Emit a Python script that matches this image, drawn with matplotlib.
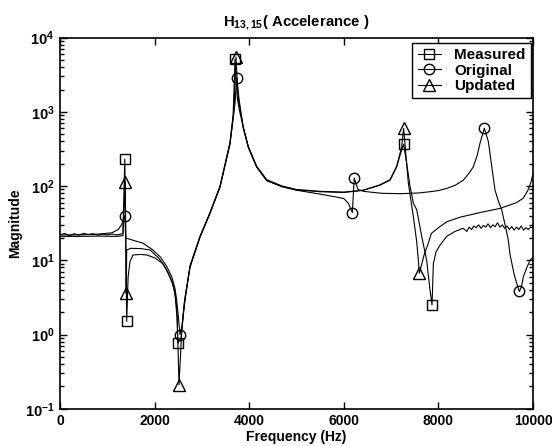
import numpy as np
import matplotlib
matplotlib.use('Agg')
import matplotlib.pyplot as plt
from matplotlib.lines import Line2D
from matplotlib.ticker import FixedLocator, LogLocator, FuncFormatter, NullFormatter

# measured FRF (noisy test data)
meas_f = [0, 100, 200, 300, 400, 500, 600, 700, 800, 900, 1000, 1100, 1200, 1280, 1330,
          1370, 1410, 1440, 1480, 1543, 1700, 1833, 2000, 2178, 2300, 2389, 2440, 2474,
          2488, 2560, 2600, 2650, 2750, 2960, 3171, 3383, 3594, 3660, 3700, 3750, 3800,
          3876, 3982, 4158, 4370, 4700, 5000, 5500, 6000, 6413, 6765, 6977, 7118, 7224,
          7265, 7330, 7400, 7470, 7541, 7647, 7752, 7822, 7865, 7893, 7950, 8034, 8175,
          8350, 8520, 8600, 8650, 8700, 8750, 8800, 8850, 8900, 8950, 9000, 9050, 9100,
          9150, 9200, 9250, 9300, 9350, 9400, 9450, 9500, 9550, 9600, 9650, 9700, 9750,
          9800, 9850, 9900, 9950, 10000]
meas_m = [22, 23, 21.5, 22.8, 22, 23, 22.3, 22.8, 21.8, 22.5, 22, 22.6, 22, 22.5, 23,
          230, 1.5, 6, 9.6, 11.8, 12, 11.8, 10.8, 9.0, 6.5, 4.8, 3.2, 2.1,
          0.76, 0.9, 1.8, 3.3, 8.5, 21, 44, 100, 390, 900, 5100, 1500, 1000,
          620, 340, 185, 122, 100, 90, 85, 83, 88, 103, 120, 182, 310,
          366, 200, 100, 59, 48, 21, 10, 4, 2.5, 9, 13, 16, 21,
          24.5, 27, 24.5, 28, 26, 29, 27.5, 30, 27, 29.5, 28, 31, 27.5,
          30, 28.5, 32, 28, 30, 27, 29, 26, 28.5, 25.5, 28, 26, 29,
          25.5, 27.5, 26, 28, 27.5]
meas_mark_f = [1370, 1410, 2488, 3700, 7265, 7865]

# original FE model
orig_f = [0, 400, 800, 1100, 1230, 1300, 1340, 1370, 1390, 1500, 1755, 1950, 2114, 2250,
          2362, 2430, 2467, 2500, 2537, 2580, 2643, 2748, 2960, 3171, 3383, 3594, 3700,
          3735, 3790, 3876, 3982, 4158, 4370, 4700, 5000, 5500, 5800, 6000, 6100, 6180,
          6220, 6300, 6413, 6800, 7200, 7600, 7822, 8000, 8175, 8360, 8527, 8650, 8739,
          8820, 8880, 8971, 9055, 9130, 9197, 9270, 9338, 9420, 9478, 9514, 9600, 9655,
          9711, 9760, 9795, 9870, 9937, 10000]
orig_m = [22, 22, 22.5, 23.5, 26, 30, 35, 40, 20, 19, 17, 14, 11.2, 8.4,
          6.0, 4.2, 2.9, 1.8, 1.0, 1.3, 2.9, 8.2, 20.8, 43, 98, 370, 1300,
          2840, 1400, 600, 330, 180, 118, 98, 88, 78, 72, 68, 58, 44,
          128, 90, 85, 80, 79, 81, 84, 87, 93, 103, 120, 150, 182,
          260, 380, 601, 400, 180, 88, 62, 48, 28, 18.7, 12, 6.5, 4.9,
          3.8, 4.5, 6, 8, 10, 11]
orig_mark_f = [1370, 2537, 3735, 6180, 6220, 8971, 9711]

# updated FE model
upd_f = [0, 400, 800, 1200, 1330, 1380, 1400, 1410, 1500, 1700, 1903, 2100, 2255, 2370,
         2431, 2480, 2516, 2570, 2630, 2748, 2960, 3171, 3383, 3594, 3680, 3720, 3770,
         3876, 3982, 4158, 4370, 4700, 5000, 5500, 6000, 6413, 6765, 6977, 7118, 7224,
         7265, 7364, 7470, 7540, 7576, 7597, 7650, 7700, 7787, 7850, 8000, 8175, 8450,
         8950, 9302, 9655, 9795, 9900, 9960, 10000]
upd_m = [21, 21, 21.2, 21, 21.5, 115, 3.6, 13.8, 14.5, 14.4, 13.8, 10.5, 7.4, 5,
         3.6, 1.5, 0.21, 1.0, 2.8, 8, 20.5, 43, 97, 375, 1100, 5500, 1500,
         610, 335, 182, 120, 98, 89, 84, 82, 88, 104, 122, 185, 340,
         600, 110, 39, 18, 10, 6.7, 9, 12, 17, 23, 27.5, 33, 38,
         45, 50, 60, 69, 90, 115, 150]
upd_mark_f = [1380, 1400, 2516, 3720, 7265, 7597]

x_ticks = [0, 2000, 4000, 6000, 8000, 10000]

plt.rcParams['font.family'] = 'Liberation Sans'
plt.rcParams['font.weight'] = 'bold'
plt.rcParams['font.size'] = 10
plt.rcParams['mathtext.fontset'] = 'custom'
plt.rcParams['mathtext.rm'] = 'Liberation Sans:bold'
plt.rcParams['mathtext.it'] = 'Liberation Sans:bold'
plt.rcParams['mathtext.bf'] = 'Liberation Sans:bold'

fig = plt.figure(figsize=(5.52, 4.46), dpi=100)
ax = fig.add_axes([0.1087, 0.0836, 0.8569, 0.8319])


def mark_idx(freqs, marks):
    return [i for i, f in enumerate(freqs) if f in marks]


series = [
    (meas_f, meas_m, meas_mark_f, 's', 7, 'Measured'),
    (orig_f, orig_m, orig_mark_f, 'o', 7.5, 'Original'),
    (upd_f, upd_m, upd_mark_f, '^', 8, 'Updated'),
]
handles = []
for f, m, marks, mk, ms, name in series:
    ax.plot(f, m, color='k', lw=0.8, marker=mk, ms=ms, mfc='none', mec='k', mew=1.0,
            markevery=mark_idx(f, marks))
    handles.append(Line2D([], [], color='k', lw=0.8, marker=mk, ms=ms, mfc='none',
                          mec='k', mew=1.0, label=name))

ax.set_yscale('log')
ax.set_xlim(0, 10000)
ax.set_ylim(0.1, 1e4)
ax.xaxis.set_major_locator(FixedLocator(x_ticks))
ax.yaxis.set_major_locator(LogLocator(base=10, numticks=10))
ax.yaxis.set_minor_locator(LogLocator(base=10, subs=np.arange(2, 10), numticks=10))
ax.yaxis.set_minor_formatter(NullFormatter())
ax.yaxis.set_major_formatter(FuncFormatter(lambda v, p: r'$10^{%d}$' % round(np.log10(v))))
ax.tick_params(which='both', direction='in', top=True, right=True, width=1.0)
ax.tick_params(which='major', length=5, pad=4)
ax.tick_params(axis='y', which='major', labelsize=10.5)
ax.tick_params(which='minor', length=3)
for sp in ax.spines.values():
    sp.set_linewidth(1.2)

ax.set_title(r'H$_{13,15}$( Accelerance )', fontsize=10.7, fontweight='bold', pad=8)
ax.set_xlabel('Frequency (Hz)', fontweight='bold', labelpad=1)
ax.set_ylabel('Magnitude', fontweight='bold', labelpad=2)

leg = ax.legend(handles=handles, loc='upper right', bbox_to_anchor=(531 / 552, 1 - 42.7 / 446),
                bbox_transform=fig.transFigure, borderaxespad=0, fancybox=False,
                edgecolor='k', framealpha=1, fontsize=11, handlelength=1.5,
                handletextpad=0.9, labelspacing=0.1, borderpad=0.35)
leg.get_frame().set_linewidth(1.0)

fig.savefig('out.png', dpi=100)
